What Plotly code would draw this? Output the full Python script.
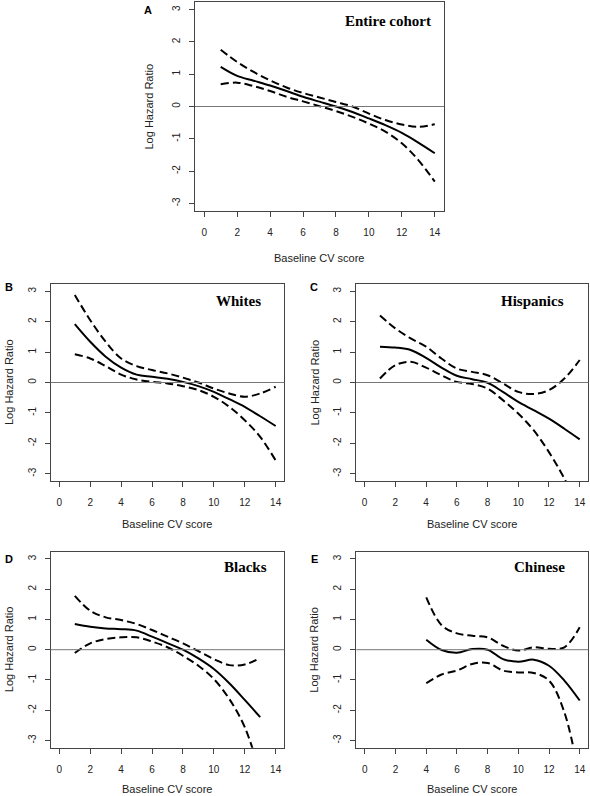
import plotly.graph_objects as go

# ---------------- data ----------------
x_full = [1, 2, 3, 4, 5, 6, 7, 8, 9, 10, 11, 12, 13, 14]

entire_est = [1.23, 0.95, 0.80, 0.65, 0.48, 0.30, 0.15, 0.00, -0.17, -0.37, -0.58, -0.82, -1.12, -1.45]
entire_hi = [1.76, 1.38, 1.07, 0.81, 0.59, 0.42, 0.28, 0.14, 0.00, -0.22, -0.42, -0.56, -0.63, -0.55]
entire_lo = [0.69, 0.74, 0.63, 0.48, 0.30, 0.16, 0.01, -0.14, -0.32, -0.53, -0.78, -1.14, -1.66, -2.33]

whites_est = [1.92, 1.34, 0.85, 0.49, 0.26, 0.19, 0.12, 0.02, -0.12, -0.31, -0.55, -0.80, -1.11, -1.43]
whites_hi = [2.88, 2.05, 1.34, 0.79, 0.54, 0.41, 0.30, 0.16, 0.00, -0.20, -0.36, -0.47, -0.36, -0.14]
whites_lo = [0.93, 0.79, 0.54, 0.26, 0.10, 0.02, -0.03, -0.12, -0.25, -0.47, -0.80, -1.24, -1.79, -2.56]

hisp_est = [1.18, 1.15, 1.07, 0.81, 0.49, 0.22, 0.11, -0.01, -0.31, -0.64, -0.91, -1.19, -1.52, -1.87]
hisp_hi = [2.20, 1.78, 1.45, 1.18, 0.79, 0.46, 0.35, 0.24, -0.03, -0.31, -0.38, -0.25, 0.13, 0.74]
hisp_lo = [0.13, 0.57, 0.68, 0.49, 0.24, 0.02, -0.05, -0.20, -0.58, -1.02, -1.57, -2.29, -3.16, -4.20]

x_blacks = [1, 2, 3, 4, 5, 6, 7, 8, 9, 10, 11, 12, 13]
blacks_est = [0.85, 0.76, 0.70, 0.68, 0.63, 0.43, 0.22, 0.00, -0.29, -0.64, -1.11, -1.66, -2.23]
blacks_hi = [1.78, 1.29, 1.07, 0.98, 0.85, 0.65, 0.43, 0.21, -0.05, -0.31, -0.51, -0.49, -0.27]
blacks_lo = [-0.11, 0.21, 0.35, 0.41, 0.41, 0.27, 0.08, -0.20, -0.53, -0.97, -1.63, -2.56, -4.10]

x_chinese = [4, 5, 6, 7, 8, 9, 10, 11, 12, 13, 14]
chinese_est = [0.33, -0.01, -0.10, 0.02, 0.00, -0.31, -0.40, -0.33, -0.53, -1.02, -1.68]
chinese_hi = [1.73, 0.81, 0.54, 0.46, 0.41, 0.13, -0.03, 0.08, 0.03, 0.08, 0.74]
chinese_lo = [-1.11, -0.82, -0.69, -0.47, -0.44, -0.69, -0.75, -0.77, -1.02, -2.07, -4.30]

x_tickvals = [0, 2, 4, 6, 8, 10, 12, 14]
x_ticktext = ["0", "2", "4", "6", "8", "10", "12", "14"]
y_tickvals = [-3, -2, -1, 0, 1, 2, 3]
y_ticktext = ["-3", "-2", "-1", "0", "1", "2", "3"]

panel_titles = ["Entire cohort", "Whites", "Hispanics", "Blacks", "Chinese"]
panel_letters = ["A", "B", "C", "D", "E"]
x_label = "Baseline CV score"
y_label = "Log Hazard Ratio"

# ---------------- layout geometry (pixels) ----------------
W, H = 590, 796
panels = [
    dict(box=(195, 444, 2, 211), x=x_full, est=entire_est, hi=entire_hi, lo=entire_lo,
         tx=433, ty=21, lx=148, ly=10, ytx=148, xty=258),
    dict(box=(50.7, 284.3, 284, 481), x=x_full, est=whites_est, hi=whites_hi, lo=whites_lo,
         tx=263, ty=301, lx=8.5, ly=287, ytx=8.5, xty=524),
    dict(box=(356, 588.3, 284, 481), x=x_full, est=hisp_est, hi=hisp_hi, lo=hisp_lo,
         tx=566, ty=301, lx=314, ly=287, ytx=314, xty=524),
    dict(box=(50.7, 284.3, 551.7, 747.7), x=x_blacks, est=blacks_est, hi=blacks_hi, lo=blacks_lo,
         tx=269, ty=567, lx=8.5, ly=559, ytx=8.5, xty=789),
    dict(box=(356.3, 588.3, 551.7, 747.7), x=x_chinese, est=chinese_est, hi=chinese_hi, lo=chinese_lo,
         tx=567, ty=567, lx=314, ly=559, ytx=314, xty=789),
]

fig = go.Figure()
tick_font = dict(family="Liberation Sans, Arial", size=10, color="#222")
label_font = dict(family="Liberation Sans, Arial", size=11, color="#222")

for i, p in enumerate(panels):
    n = "" if i == 0 else str(i + 1)
    xa, ya = "x" + n, "y" + n
    l, r, t, b = p["box"]
    xdom = [l / W, r / W]
    ydom = [1 - b / H, 1 - t / H]
    common = dict(showgrid=False, zeroline=False, showline=True, linecolor="#444", linewidth=1,
                  mirror=True, ticks="outside", ticklen=5, tickwidth=1, tickcolor="#444",
                  tickfont=tick_font)
    fig.layout["xaxis" + n] = dict(domain=xdom, range=[-0.56, 14.56], anchor=ya,
                                   tickvals=x_tickvals, ticktext=x_ticktext,
                                   ticklabelstandoff=7, **common)
    fig.layout["yaxis" + n] = dict(domain=ydom, range=[-3.24, 3.24], anchor=xa,
                                   tickvals=y_tickvals, ticktext=y_ticktext, tickangle=-90,
                                   ticklabelstandoff=5, **common)
    fig.add_shape(type="line", xref=xa + " domain", yref=ya, x0=0, x1=1, y0=0, y1=0,
                  line=dict(color="#777", width=1))
    for key, dash in (("hi", "8px,4px"), ("lo", "8px,4px"), ("est", "solid")):
        fig.add_trace(go.Scatter(x=p["x"], y=p[key], xaxis=xa, yaxis=ya, mode="lines",
                                 line=dict(color="black", width=2, dash=dash, shape="spline",
                                           smoothing=1.0),
                                 showlegend=False, hoverinfo="skip"))
    fig.add_annotation(text="<b>" + panel_titles[i] + "</b>", xref="paper", yref="paper",
                       x=p["tx"] / W, y=1 - p["ty"] / H, xanchor="right", yanchor="middle",
                       showarrow=False, font=dict(family="Liberation Serif, Times New Roman",
                                                  size=15, color="black"))
    fig.add_annotation(text="<b>" + panel_letters[i] + "</b>", xref="paper", yref="paper",
                       x=p["lx"] / W, y=1 - p["ly"] / H, xanchor="center", yanchor="middle",
                       showarrow=False, font=dict(family="Liberation Sans, Arial", size=11,
                                                  color="black"))
    fig.add_annotation(text=y_label, xref="paper", yref="paper", textangle=-90,
                       x=p["ytx"] / W, y=1 - ((t + b) / 2) / H, xanchor="center",
                       yanchor="middle", showarrow=False, font=label_font)
    fig.add_annotation(text=x_label, xref="paper", yref="paper",
                       x=((l + r) / 2) / W, y=1 - p["xty"] / H, xanchor="center",
                       yanchor="middle", showarrow=False, font=label_font)

fig.update_layout(width=W, height=H, margin=dict(l=0, r=0, t=0, b=0),
                  paper_bgcolor="white", plot_bgcolor="white")
fig.write_html("out.html", config={"displayModeBar": False},
               post_script="document.body.style.margin='0';document.body.style.overflow='hidden';")
